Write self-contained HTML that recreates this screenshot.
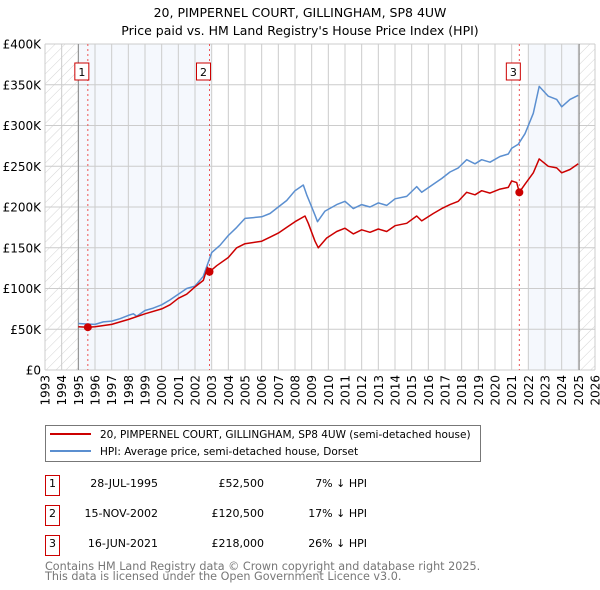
<!DOCTYPE html>
<html><head><meta charset="utf-8"><style>
body{margin:0;background:#fff;}
svg{display:block;font-family:"DejaVu Sans","Liberation Sans",sans-serif;}
</style></head><body>
<svg id="chart" width="600" height="590" xmlns="http://www.w3.org/2000/svg">
<defs>
<pattern id="hatch" patternUnits="userSpaceOnUse" width="7" height="7" patternTransform="rotate(45)">
<line x1="0" y1="0" x2="0" y2="7" stroke="#d4d4d4" stroke-width="1"/>
</pattern>
</defs>
<text x="300" y="17" text-anchor="middle" font-size="12.5" fill="#000">20, PIMPERNEL COURT, GILLINGHAM, SP8 4UW</text>
<text x="300" y="35" text-anchor="middle" font-size="12.5" fill="#000">Price paid vs. HM Land Registry's House Price Index (HPI)</text>
<g id="plot"></g>
<g id="legend">
<rect x="45.5" y="425.5" width="435" height="36" fill="#fff" stroke="#777"/>
<line x1="50" y1="434" x2="91" y2="434" stroke="#cc0000" stroke-width="2"/>
<text x="100" y="438" font-size="10.5">20, PIMPERNEL COURT, GILLINGHAM, SP8 4UW (semi-detached house)</text>
<line x1="50" y1="451" x2="91" y2="451" stroke="#5b8fd0" stroke-width="2"/>
<text x="100" y="455" font-size="10.5">HPI: Average price, semi-detached house, Dorset</text>
</g>
<g id="table" font-size="11"></g>
<text x="45" y="570" font-size="11.2" fill="#777">Contains HM Land Registry data © Crown copyright and database right 2025.</text>
<text x="45" y="580" font-size="11.2" fill="#777">This data is licensed under the Open Government Licence v3.0.</text>
</svg>
<script>
const hpiDates=[1995.0,1995.5,1996,1996.5,1997,1997.5,1998,1998.3,1998.5,1999,1999.5,2000,2000.5,2001,2001.5,2002,2002.5,2003,2003.5,2004,2004.5,2005,2006,2006.5,2007,2007.5,2008,2008.5,2008.7,2009.0,2009.2,2009.35,2009.8,2010.5,2011,2011.5,2012,2012.5,2013,2013.5,2014,2014.7,2015.3,2015.6,2016.3,2016.8,2017.3,2017.8,2018.3,2018.8,2019.2,2019.7,2020.3,2020.8,2021.0,2021.4,2021.8,2022.3,2022.65,2023.2,2023.7,2024.0,2024.5,2025.0];
const hpiValues=[57,56.5,56,59,60,63,67,69,66,73,76,80,86,93,100,103,115,144,153,165,175,186,188,192,200,208,220,227,215,200,190,182,195,203,207,198,203,200,205,202,210,213,225,218,228,235,243,248,258,253,258,255,262,265,272,277,290,315,348,336,332,323,332,337];
const propDates=[1995.0,1995.57,1996,1997,1998,1999,2000,2000.5,2001,2001.5,2002,2002.5,2002.75,2002.87,2003.3,2004,2004.5,2005,2006,2006.5,2007,2007.5,2008,2008.6,2008.8,2009.2,2009.4,2009.9,2010.5,2011,2011.5,2012,2012.5,2013,2013.5,2014,2014.7,2015.3,2015.6,2016.3,2016.8,2017.3,2017.8,2018.3,2018.8,2019.2,2019.7,2020.3,2020.8,2021.0,2021.3,2021.46,2021.8,2022.3,2022.65,2023.2,2023.7,2024.0,2024.5,2025.0];
const propValues=[53,52.5,53,56,62,69,75,80,88,93,102,110,126,120.5,128,138,150,155,158,163,168,175,182,189,180,158,150,162,170,174,167,172,169,173,170,177,180,189,183,192,198,203,207,218,215,220,217,222,224,232,230,218,228,242,259,250,248,242,246,253];
const saleDates=[1995.57,2002.87,2021.46];
const saleValues=[52.5,120.5,218];
const saleLabels=["1","2","3"];
const saleDateText=["28-JUL-1995","15-NOV-2002","16-JUN-2021"];
const salePriceText=["£52,500","£120,500","£218,000"];
const salePctText=["7% ↓ HPI","17% ↓ HPI","26% ↓ HPI"];
const yTicks=[0,50,100,150,200,250,300,350,400];
const yTickLabels=["£0","£50K","£100K","£150K","£200K","£250K","£300K","£350K","£400K"];
const xYears=[1993,1994,1995,1996,1997,1998,1999,2000,2001,2002,2003,2004,2005,2006,2007,2008,2009,2010,2011,2012,2013,2014,2015,2016,2017,2018,2019,2020,2021,2022,2023,2024,2025,2026];

const X0=45,X1=595,Y0=370,Y1=44;
const xs=y=>X0+(y-1993)/33*(X1-X0);
const ys=v=>Y0-v/400*(Y0-Y1);
const NS="http://www.w3.org/2000/svg";
const plot=document.getElementById('plot');
function mk(tag,attrs,parent){const e=document.createElementNS(NS,tag);for(const k in attrs)e.setAttribute(k,attrs[k]);(parent||plot).appendChild(e);return e;}

let r;
r=mk('rect',{x:xs(1993),y:Y1,width:xs(1995)-xs(1993),height:Y0-Y1,fill:'url(#hatch)'});


r=mk('rect',{x:xs(2025.05),y:Y1,width:xs(2026)-xs(2025.05),height:Y0-Y1,fill:'url(#hatch)'});


r=mk('rect',{x:xs(1995),y:Y1,width:xs(2003)-xs(1995),height:Y0-Y1,fill:'#eef3fc',opacity:0.6});


r=mk('rect',{x:xs(2022),y:Y1,width:xs(2025.05)-xs(2022),height:Y0-Y1,fill:'#eef3fc',opacity:0.6});



yTicks.forEach((v,i)=>{
  const l=mk('line',{x1:X0,x2:X1,y1:ys(v),y2:ys(v),stroke:'#cccccc','stroke-width':1});
  
  
  const t=mk('text',{x:X0-4,y:ys(v)+4.5,'text-anchor':'end','font-size':12,fill:'#000'});
  
  
  t.textContent=yTickLabels[i];
});
xYears.forEach(y=>{
  const l=mk('line',{x1:xs(y),x2:xs(y),y1:Y1,y2:Y0,stroke:'#cccccc','stroke-width':1});
  
  
  const t=mk('text',{x:0,y:0,'text-anchor':'end','font-size':12,fill:'#000',transform:`translate(${xs(y)+4.5},${Y0+5}) rotate(-90)`});
  
  
  t.textContent=y;
});
r=mk('line',{x1:xs(1995),x2:xs(1995),y1:Y1,y2:Y0,stroke:'#888'});


r=mk('line',{x1:xs(2025.05),x2:xs(2025.05),y1:Y1,y2:Y0,stroke:'#888'});



saleDates.forEach((d,i)=>{
  const l=mk('line',{x1:xs(d),x2:xs(d),y1:Y1,y2:Y0,stroke:'#ee5555','stroke-width':1,'stroke-dasharray':'2,3'});
  
  
  const b=mk('rect',{x:xs(d)-13,y:63,width:14,height:17,fill:'#fff',stroke:'#cc0000'});
  
  
  const t=mk('text',{x:xs(d)-6,y:76,'text-anchor':'middle','font-size':11});
  
  
  t.textContent=saleLabels[i];
});

function path(dates,vals){return dates.map((d,i)=>(i?'L':'M')+xs(d).toFixed(1)+','+ys(vals[i]).toFixed(1)).join('');}
const hp=mk('path',{d:path(hpiDates,hpiValues),fill:'none',stroke:'#5b8fd0','stroke-width':1.5,'stroke-linejoin':'round'});


const pp=mk('path',{d:path(propDates,propValues),fill:'none',stroke:'#cc0000','stroke-width':1.5,'stroke-linejoin':'round'});


saleDates.forEach((d,i)=>{
  const c=mk('circle',{cx:xs(d),cy:ys(saleValues[i]),r:4,fill:'#cc0000'});
  
  
});

const tb=document.getElementById('table');
saleDates.forEach((d,i)=>{
  const top=475+i*30;
  const b=mk('rect',{x:45.5,y:top+0.5,width:14,height:20,fill:'#fff',stroke:'#cc0000'},tb);
  
  
  const cols=[[52.5,'middle',saleLabels[i],'table-row-number'],[158,'end',saleDateText[i],'table-date'],[264,'end',salePriceText[i],'table-price'],[367,'end',salePctText[i],'table-hpi-diff']];
  cols.forEach(c=>{
    const t=mk('text',{x:c[0],y:top+12,'text-anchor':c[1]},tb);
    
    
    t.textContent=c[2];
  });
});
</script>
</body></html>
